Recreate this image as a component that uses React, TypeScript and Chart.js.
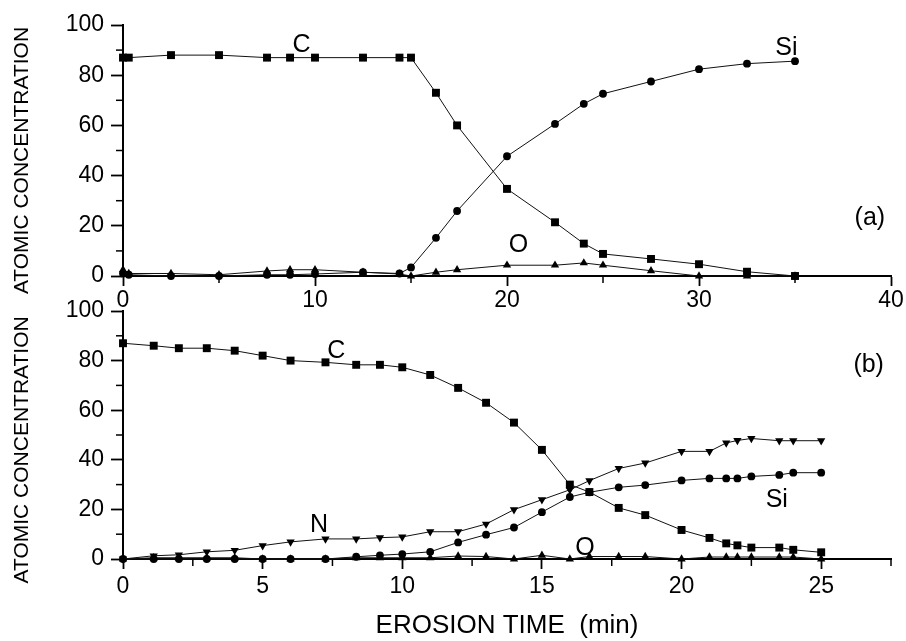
import React, { useEffect, useRef } from 'react';
import { Chart, registerables } from 'chart.js';

Chart.register(...registerables);

// ---------- Panel (a) ----------
const TIME_A = [0, 0.3, 2.5, 5, 7.5, 8.7, 10, 12.5, 14.4, 15, 16.3, 17.4, 20, 22.5, 24, 25, 27.5, 30, 32.5, 35];
const C_A = [87, 87, 88, 88, 87, 87, 87, 87, 87, 87, 73, 60, 34.7, 21.4, 12.9, 8.8, 6.8, 4.7, 1.7, 0];
const SI_A = [1, 0.5, 0, 0, 0.5, 0.5, 0.8, 1.5, 1, 3.4, 15.2, 25.9, 47.7, 60.6, 68.6, 72.6, 77.5, 82.4, 84.6, 85.6];
const O_A = [2.5, 1, 1, 0.5, 2, 2.5, 2.5, 1.5, 0.8, 0, 1.5, 2.5, 4.3, 4.3, 5.2, 4.3, 2.1, 0, 0, 0];

// ---------- Panel (b) ----------
const TIME_B = [0, 1.1, 2, 3, 4, 5, 6, 7.25, 8.35, 9.2, 10, 11, 12, 13, 14, 15, 16, 16.7, 17.75, 18.7, 20, 21, 21.6, 22, 22.5, 23.5, 24, 25];
const C_B = [87, 86, 85, 85, 84, 82, 80, 79.3, 78.3, 78.3, 77.3, 74.2, 69, 63, 55, 44, 30, 27, 20.6, 17.7, 11.7, 8.5, 6.3, 5.5, 4.6, 4.6, 3.7, 2.7];
const N_B = [0, 1.3, 1.7, 2.9, 3.5, 5.4, 6.9, 8.1, 8.1, 8.6, 8.9, 11, 11, 14.1, 19.9, 23.9, 27.9, 31.6, 36.5, 38.7, 43.4, 43.4, 46.8, 47.8, 48.6, 47.7, 47.7, 47.7];
const SI_B = [0, 0, 0, 0, 0, 0, 0, 0, 0.9, 1.5, 2, 2.9, 6.7, 9.8, 12.7, 18.9, 25, 26.9, 28.9, 29.8, 31.7, 32.5, 32.5, 32.5, 33.3, 33.9, 34.8, 34.8];
const O_B = [0, 0.5, 0.5, 0.5, 0.5, 0, 0, 0, 0.5, 0.5, 0.5, 0.5, 1.2, 1, 0, 1.5, 0, 1, 1, 1, 0, 0.8, 0.8, 0.8, 0.8, 0.8, 0.8, 0];

// ---------- Axes ----------
const X_TICKS_A = [0, 10, 20, 30, 40];
const X_MINOR_A = [5, 15, 25, 35];
const X_TICKS_B = [0, 5, 10, 15, 20, 25];
const X_MINOR_B = [2.5, 7.5, 12.5, 17.5, 22.5, 27.5];
const Y_TICKS = [0, 20, 40, 60, 80, 100];
const Y_MINOR = [10, 30, 50, 70, 90];

const Y_TITLE = 'ATOMIC CONCENTRATION';
const X_TITLE = 'EROSION TIME  (min)';

const LABELS_A = [
  { text: 'C', x: 9.3, y: 92 },
  { text: 'Si', x: 34.55, y: 90.8 },
  { text: 'O', x: 20.6, y: 12.4 },
  { text: '(a)', x: 38.9, y: 23 },
];
const LABELS_B = [
  { text: 'C', x: 7.64, y: 83.7 },
  { text: 'N', x: 7.02, y: 13.8 },
  { text: 'Si', x: 23.41, y: 23.9 },
  { text: 'O', x: 16.54, y: 4.4 },
  { text: '(b)', x: 26.7, y: 78.3 },
];

const FONT = '"Liberation Sans", Arial, Helvetica, sans-serif';

const pts = (xs: number[], ys: number[]) => xs.map((x, i) => ({ x, y: ys[i] }));

function series(label: string, xs: number[], ys: number[], style: string, radius: number, rotation = 0) {
  return {
    label,
    data: pts(xs, ys),
    pointStyle: style,
    pointRadius: radius,
    pointRotation: rotation,
    pointBackgroundColor: '#000',
    pointBorderColor: '#000',
    pointBorderWidth: 0,
    borderColor: '#111',
    borderWidth: 1,
    tension: 0,
    fill: false,
    clip: false as any,
  };
}

const overlay = {
  id: 'overlay',
  afterDraw(chart: any, _args: any, o: any) {
    const { ctx, chartArea } = chart;
    const xs = chart.scales.x;
    const ys = chart.scales.y;
    ctx.save();
    ctx.strokeStyle = '#000';
    ctx.lineWidth = 1.5;
    const seg = (x1: number, y1: number, x2: number, y2: number) => {
      ctx.beginPath();
      ctx.moveTo(x1, y1);
      ctx.lineTo(x2, y2);
      ctx.stroke();
    };
    o.yMinor.forEach((v: number) => {
      const p = ys.getPixelForValue(v);
      seg(chartArea.left - 7, p, chartArea.left, p);
    });
    o.xMinor.forEach((v: number) => {
      const p = xs.getPixelForValue(v);
      seg(p, chartArea.bottom, p, chartArea.bottom + 7);
    });
    ctx.fillStyle = '#000';
    ctx.font = `25px ${FONT}`;
    ctx.textAlign = 'center';
    ctx.textBaseline = 'middle';
    o.labels.forEach((l: any) => {
      ctx.fillText(l.text, xs.getPixelForValue(l.x), ys.getPixelForValue(l.y));
    });
    if (o.xTitle) {
      ctx.font = `26px ${FONT}`;
      ctx.fillText(o.xTitle, (chartArea.left + chartArea.right) / 2, chartArea.bottom + 67);
    }
    ctx.font = `21px ${FONT}`;
    ctx.textBaseline = 'alphabetic';
    ctx.translate(28, ys.getPixelForValue(o.yTitleAt));
    ctx.rotate(-Math.PI / 2);
    ctx.fillText(o.yTitle, 0, 0);
    ctx.restore();
  },
};

function makeConfig(opts: any) {
  const tickFont = { family: FONT, size: 23 };
  return {
    type: 'line',
    data: { datasets: opts.datasets },
    plugins: [overlay],
    options: {
      animation: false,
      responsive: false,
      events: [],
      layout: { padding: { top: opts.padTop, right: 15, left: 0, bottom: 0 } },
      plugins: {
        legend: { display: false },
        tooltip: { enabled: false },
        overlay: {
          xMinor: opts.xMinor,
          yMinor: Y_MINOR,
          labels: opts.labels,
          yTitle: Y_TITLE,
          yTitleAt: opts.yTitleAt,
          xTitle: opts.xTitle,
        },
      },
      scales: {
        x: {
          type: 'linear',
          min: 0,
          max: opts.xMax,
          afterBuildTicks: (s: any) => {
            s.ticks = opts.xTicks.map((v: number) => ({ value: v }));
          },
          afterFit: (s: any) => {
            s.height = opts.xHeight;
          },
          border: { display: true, color: '#000', width: 2 },
          grid: { drawOnChartArea: false, drawTicks: true, tickLength: 10, tickColor: '#000', tickWidth: 1.8 },
          ticks: { color: '#000', font: tickFont, padding: opts.xPad, maxRotation: 0, autoSkip: false },
        },
        y: {
          type: 'linear',
          min: 0,
          max: 100,
          afterBuildTicks: (s: any) => {
            s.ticks = Y_TICKS.map((v) => ({ value: v }));
          },
          afterFit: (s: any) => {
            s.width = 123;
          },
          border: { display: true, color: '#000', width: 2 },
          grid: { drawOnChartArea: false, drawTicks: true, tickLength: 12, tickColor: '#000', tickWidth: 1.8 },
          ticks: { color: '#000', font: tickFont, padding: 7, autoSkip: false },
        },
      },
    },
  };
}

export default function App() {
  const refA = useRef<HTMLCanvasElement>(null);
  const refB = useRef<HTMLCanvasElement>(null);

  useEffect(() => {
    const chartA = new Chart(
      refA.current as HTMLCanvasElement,
      makeConfig({
        datasets: [
          series('C', TIME_A, C_A, 'rect', 5.6),
          series('Si', TIME_A, SI_A, 'circle', 3.9),
          series('O', TIME_A, O_A, 'triangle', 4.8),
        ],
        padTop: 25,
        xMax: 40,
        xTicks: X_TICKS_A,
        xMinor: X_MINOR_A,
        xHeight: 44,
        xPad: 1,
        labels: LABELS_A,
        yTitleAt: 46,
        xTitle: null,
      }) as any
    );
    const chartB = new Chart(
      refB.current as HTMLCanvasElement,
      makeConfig({
        datasets: [
          series('C', TIME_B, C_B, 'rect', 5.6),
          series('N', TIME_B, N_B, 'triangle', 4.8, 180),
          series('Si', TIME_B, SI_B, 'circle', 3.9),
          series('O', TIME_B, O_B, 'triangle', 4.8),
        ],
        padTop: 21,
        xMax: 27.5,
        xTicks: X_TICKS_B,
        xMinor: X_MINOR_B,
        xHeight: 82,
        xPad: 4,
        labels: LABELS_B,
        yTitleAt: 44,
        xTitle: X_TITLE,
      }) as any
    );
    return () => {
      chartA.destroy();
      chartB.destroy();
    };
  }, []);

  return (
    <div style={{ position: 'absolute', left: 0, top: 0, width: 906, height: 641, background: '#fff', overflow: 'hidden' }}>
      <canvas ref={refA} width={906} height={320} style={{ position: 'absolute', left: 0, top: 0, display: 'block' }} />
      <canvas ref={refB} width={906} height={351} style={{ position: 'absolute', left: 0, top: 290, display: 'block' }} />
    </div>
  );
}
